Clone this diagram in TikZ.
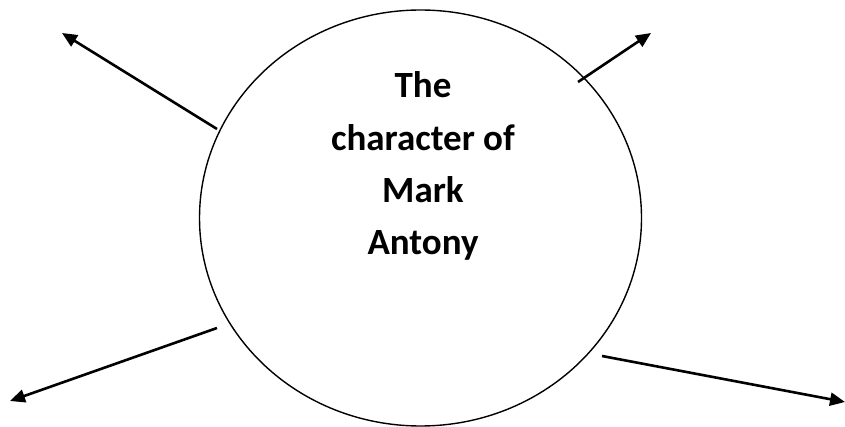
\documentclass[tikz,border=0pt]{standalone}
\usepackage{fontspec}
\setmainfont{Carlito}
\usetikzlibrary{arrows.meta,shapes.geometric}
\begin{document}
\begin{tikzpicture}[x=1pt,y=-1pt,
  oval/.style={draw=black,line width=1.4pt,ellipse,minimum width=442pt,minimum height=416pt,inner sep=0pt},
  label/.style={font=\bfseries\fontsize{37}{52.4}\selectfont,align=center,inner sep=0pt},
  link/.style={line width=2.6pt,-{Triangle[length=15pt,width=13pt]}}]
\useasboundingbox (0,0) rectangle (845,427);
\node[oval] (c) at (420.5,218) {};
\node[label,anchor=base] (t) at (423,255) {The\\character of\\Mark\\Antony};
\coordinate (s1) at (217,129);
\coordinate (e1) at (62,33);
\coordinate (s2) at (578,82);
\coordinate (e2) at (651,33);
\coordinate (s3) at (217,328);
\coordinate (e3) at (10,401);
\coordinate (s4) at (602,356);
\coordinate (e4) at (845,402);
\draw[link] (s1) -- (e1);
\draw[link] (s2) -- (e2);
\draw[link] (s3) -- (e3);
\draw[link] (s4) -- (e4);
\end{tikzpicture}
\end{document}
